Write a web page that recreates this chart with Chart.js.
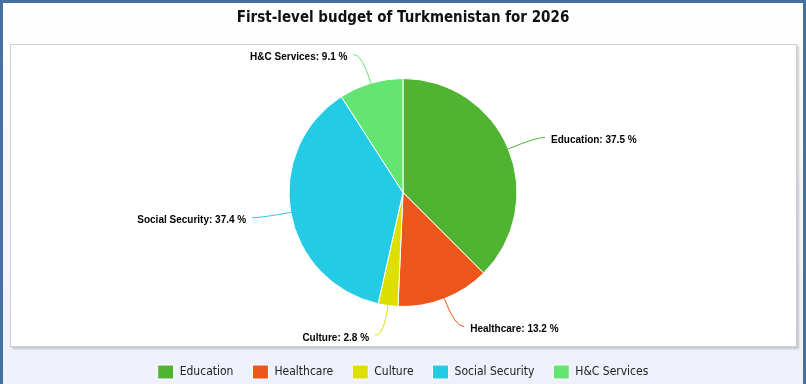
<!DOCTYPE html>
<html>
<head>
<meta charset="utf-8">
<script src="https://cdn.jsdelivr.net/npm/chart.js@4/dist/chart.umd.min.js"></script>
<style>
  html, body { margin: 0; padding: 0; }
  body { width: 806px; height: 384px; overflow: hidden; position: relative; }
  .frame {
    position: absolute; left: 0; top: 0; width: 806px; height: 384px;
    box-sizing: border-box;
    border: 3px solid #46709f; border-bottom: none;
    background: linear-gradient(to bottom, #ffffff 0%, #f4f5fc 60%, #eef0fb 100%);
  }
  .plot {
    position: absolute; left: 10px; top: 44px; width: 785px; height: 301px;
    background: #fff; border: 1px solid #cfcfcf;
    box-shadow: 2px 2px 2px rgba(0, 0, 0, 0.18);
  }
  canvas { position: absolute; left: 0; top: 0; }
</style>
</head>
<body>
<div class="frame"></div>
<div class="plot"></div>
<canvas id="chart" width="806" height="390"></canvas>
<script>
// budget shares, percent
const categories = ["Education", "Healthcare", "Culture", "Social Security", "H&C Services"];
const shares = [37.5, 13.2, 2.8, 37.4, 9.1];
const colors = ["#50b432", "#ed561b", "#dddf00", "#24cbe5", "#64e572"];

// draws "Name: xx.x %" labels with soft connectors outside the slices
const outsideLabels = {
  id: "outsideLabels",
  afterDatasetsDraw(chart) {
    const ctx = chart.ctx;
    const meta = chart.getDatasetMeta(0);
    ctx.save();
    ctx.font = "bold 10px 'Liberation Sans', Arial, sans-serif";
    ctx.textBaseline = "middle";
    meta.data.forEach((arc, i) => {
      const { x, y, startAngle, endAngle, outerRadius } = arc.getProps(
        ["x", "y", "startAngle", "endAngle", "outerRadius"], true);
      const mid = (startAngle + endAngle) / 2;
      const cos = Math.cos(mid), sin = Math.sin(mid);
      const side = cos >= 0 ? 1 : -1;
      const ex = x + outerRadius * cos, ey = y + outerRadius * sin;
      const ax = x + (outerRadius + 30) * cos, ay = y + (outerRadius + 30) * sin;

      ctx.strokeStyle = colors[i];
      ctx.lineWidth = 1;
      ctx.beginPath();
      ctx.moveTo(ex, ey);
      ctx.quadraticCurveTo(ax, ay, ax + side * 9, ay);
      ctx.stroke();

      ctx.fillStyle = "#000";
      ctx.textAlign = side > 0 ? "left" : "right";
      ctx.fillText(categories[i] + ": " + shares[i] + " %", ax + side * 15, ay + 3);
    });
    ctx.restore();
  }
};

new Chart(document.getElementById("chart"), {
  type: "pie",
  data: {
    labels: categories,
    datasets: [{
      data: shares,
      backgroundColor: colors,
      borderColor: "#ffffff",
      borderWidth: 1,
      hoverOffset: 0,
      radius: 114
    }]
  },
  options: {
    responsive: false,
    animation: false,
    layout: { padding: { top: 9, bottom: 1, left: 0, right: 0 } },
    plugins: {
      title: {
        display: true,
        text: "First-level budget of Turkmenistan for 2026",
        color: "#111",
        font: { family: "'DejaVu Sans Condensed', 'DejaVu Sans', sans-serif", size: 15, weight: "bold" },
        padding: { top: 0, bottom: 12 }
      },
      legend: {
        position: "bottom",
        labels: {
          boxWidth: 16,
          boxHeight: 14,
          padding: 19,
          color: "#222",
          font: { family: "'DejaVu Sans Condensed', 'DejaVu Sans', sans-serif", size: 12 }
        }
      },
      tooltip: { enabled: false }
    }
  },
  plugins: [outsideLabels]
});
</script>
</body>
</html>
